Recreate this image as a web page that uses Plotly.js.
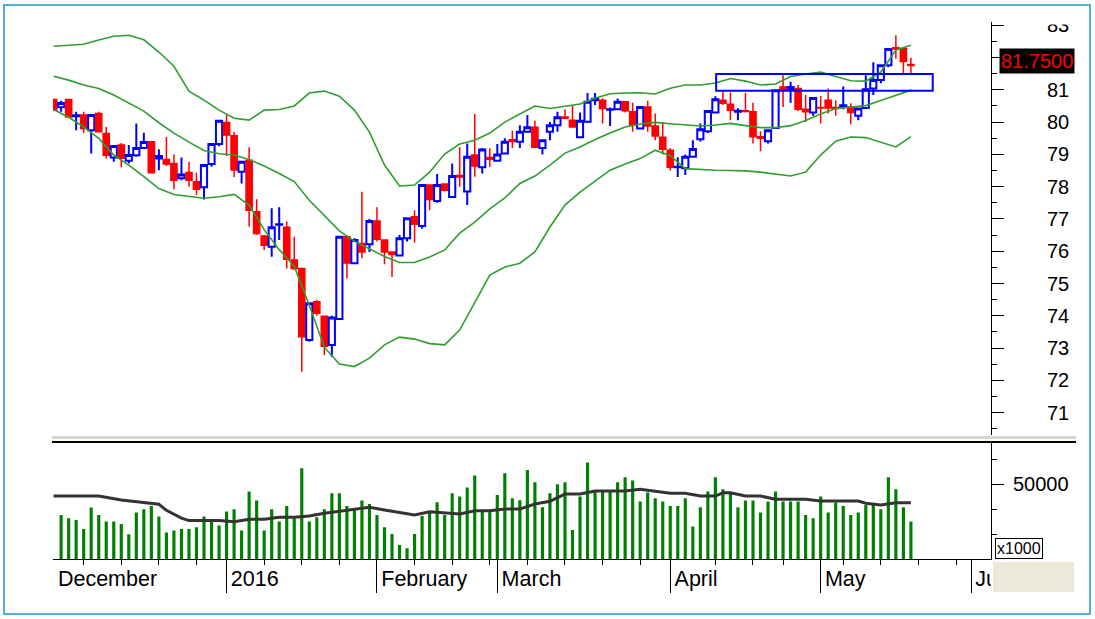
<!DOCTYPE html>
<html><head><meta charset="utf-8">
<script src="https://cdn.plot.ly/plotly-3.0.1.min.js"></script>
<style>html,body{margin:0;padding:0;background:#fff;}#chart{width:1095px;height:619px;}</style>
</head><body><div id="chart"></div>
<script>
// ---- trading calendar (days of each month present in the chart) ----
const tradingDays = {
  '2015-12': [1,2,3,4,7,8,9,10,11,14,15,16,17,18,21,22,23,24,25,28,29,30,31],
  '2016-01': [4,5,6,7,8,11,12,13,14,15,18,19,20,21,22,25,26,27,28,29],
  '2016-02': [1,2,3,4,5,15,16,17,18,19,22,23,24,25,26,29],
  '2016-03': [1,2,3,4,7,8,9,10,11,14,15,16,17,18,21,22,23,24,25,28,29,30,31],
  '2016-04': [1,4,5,6,7,8,11,12,13,14,15,19,20,21,22,25,26,27,28,29],
  '2016-05': [4,5,6,9,10,11,12,13,16,17,18,19,20]
};
const monthNames = ['January','February','March','April','May','June','July','August','September','October','November','December'];

// ---- prices ----
const open = [80.70,80.46,80.70,80.18,80.22,79.75,80.27,79.65,78.90,79.29, 78.80,78.97,79.20,79.39,78.87,78.84,78.72,78.26,78.44,78.15,
 77.98,78.70,79.32,79.99,79.58,78.46,78.82,77.22,76.47,76.14, 76.82,76.74,75.73,75.47,73.25,74.44,73.99,73.10,73.90,76.45,
 75.63,76.24,76.22,76.94,76.35,75.98,75.87,76.40,77.07,76.78, 78.05,77.56,78.08,77.68,78.35,77.85,78.98,78.60,78.90,78.80,
 79.03,79.45,79.39,79.70,79.84,79.20,79.70,79.90,80.16,80.06, 79.53,80.01,80.68,80.68,80.38,80.40,80.63,80.32,79.80,80.47,
 79.88,79.53,79.13,78.60,78.57,78.93,79.47,79.72,80.30,80.68, 80.55,80.32,80.35,80.32,79.55,79.41,79.82,81.09,81.00,81.04,
 80.40,80.30,80.45,80.68,80.45,80.47,80.47,80.20,80.44,81.04, 81.30,81.76,82.30,82.28,81.78];
const high = [80.72,80.66,80.72,80.32,80.32,80.22,80.32,79.85,79.26,79.35, 79.29,79.96,79.67,79.40,79.16,79.54,79.00,78.90,78.77,78.43,
 78.67,79.32,80.04,80.22,79.70,78.77,79.22,77.61,76.50,77.33, 77.36,76.92,76.45,75.50,74.42,74.50,74.00,74.00,76.45,76.50,
 76.40,77.84,77.00,77.36,76.35,76.00,76.50,77.02,77.27,78.05, 78.05,78.39,78.10,78.72,79.22,79.34,80.25,79.20,79.19,79.32,
 79.50,79.73,79.90,80.22,80.04,79.46,80.00,80.32,80.40,80.50, 80.30,80.90,80.90,80.74,80.45,80.73,80.63,80.60,80.47,80.66,
 80.27,79.98,79.20,78.91,79.00,79.44,79.96,80.34,80.80,80.94, 80.92,80.43,80.90,80.60,79.72,79.75,80.99,81.45,81.25,81.15,
 80.84,80.75,80.81,81.04,80.68,81.10,80.58,80.45,81.45,81.85, 81.76,82.26,82.69,82.28,81.99];
const low = [80.37,80.32,80.16,79.75,79.66,79.03,79.70,78.87,78.77,78.60, 78.72,78.93,79.20,78.43,78.51,78.64,77.92,78.20,78.00,77.74,
 77.60,78.62,79.25,78.95,78.30,78.10,76.76,76.50,76.04,75.83, 76.35,75.47,75.42,72.27,73.20,74.00,72.79,72.73,73.90,75.16,
 75.60,75.78,75.98,76.30,75.60,75.20,75.85,76.30,76.26,76.70, 77.27,77.50,77.85,77.68,78.00,77.43,78.31,78.41,78.62,78.80,
 79.00,79.20,79.20,79.70,79.20,79.00,79.44,79.70,80.10,79.85, 79.50,80.00,80.53,79.96,79.88,80.38,80.30,79.70,79.80,79.70,
 79.44,79.00,78.50,78.30,78.36,78.90,79.40,79.66,80.30,80.53, 80.06,80.06,80.30,79.34,79.10,79.34,79.80,80.47,80.60,80.34,
 80.00,80.20,79.96,80.27,80.20,80.40,79.93,80.06,80.44,80.84, 81.20,81.70,81.96,81.48,81.48];
const close = [80.37,80.59,80.16,80.21,79.80,80.22,79.70,78.97,79.26,78.88, 78.98,79.20,79.38,78.43,78.95,78.70,78.20,78.38,78.20,77.92,
 78.67,79.32,80.04,79.60,78.52,78.77,77.27,76.55,76.19,76.74, 76.84,75.75,75.47,73.35,74.39,74.08,73.06,73.95,76.45,75.64,
 76.35,75.98,76.94,76.37,75.98,75.90,76.40,77.02,76.84,78.05, 77.60,78.05,77.89,78.33,78.30,78.93,78.64,79.15,78.85,79.00,
 79.39,79.40,79.70,79.84,79.22,79.44,79.90,80.15,80.12,79.85, 80.04,80.63,80.72,80.42,80.40,80.63,80.35,79.90,80.47,79.88,
 79.57,79.16,78.60,78.62,78.93,79.17,79.78,80.34,80.71,80.58, 80.37,80.35,80.33,79.55,79.50,79.75,80.99,80.99,81.09,80.40,
 80.32,80.75,80.44,80.44,80.42,80.52,80.30,80.42,81.02,81.30, 81.76,82.26,82.26,81.88,81.75];

// ---- Bollinger bands, read at every second session ----
const bandIdx = [0,2,4,6,8,10,12,14,16,18,20,22,24,26,28,30,32,34,36,38,40,42,44,46,48,50,52,54,56,58,
 60,62,64,66,68,70,72,74,76,78,80,82,84,86,88,90,92,94,96,98,100,102,104,106,108,110,112,114];
const bandUpper = [82.35,82.38,82.41,82.54,82.66,82.69,82.55,82.17,81.73,80.96, 80.68,80.37,80.12,80.06,80.37,80.39,80.50,80.90,80.96,80.80,
 80.37,79.69,78.67,78.02,78.05,78.45,79.01,79.32,79.44,79.66, 80.00,80.25,80.50,80.42,80.50,80.56,80.74,80.88,80.90,80.91,
 80.87,81.05,81.15,81.15,81.21,81.35,81.27,81.15,81.18,81.41, 81.49,81.55,81.41,81.28,81.27,81.55,82.23,82.38];
const bandMiddle = [81.42,81.30,81.15,81.04,80.84,80.60,80.34,79.98,79.66,79.38, 79.12,79.02,78.98,78.84,78.64,78.41,78.16,77.58,77.09,76.63,
 76.31,76.08,75.84,75.65,75.65,75.82,76.04,76.56,76.90,77.31, 77.65,78.10,78.33,78.67,79.04,79.23,79.46,79.66,79.85,79.94,
 79.99,79.95,79.91,79.88,79.91,79.96,79.89,79.83,79.83,79.89, 80.05,80.25,80.42,80.46,80.51,80.67,80.84,80.99];
const bandLower = [80.39,80.15,79.85,79.50,78.98,78.67,78.31,77.94,77.76,77.69, 77.64,77.69,77.76,77.43,76.67,76.05,75.54,74.33,73.03,72.51,
 72.43,72.69,73.10,73.34,73.28,73.14,73.10,73.56,74.43,75.26, 75.51,75.63,75.98,76.75,77.43,77.83,78.17,78.51,78.70,78.87,
 79.13,78.96,78.56,78.53,78.51,78.50,78.49,78.45,78.39,78.33, 78.45,78.98,79.41,79.54,79.52,79.38,79.23,79.55];

// ---- volume (x1000) ----
const volume = [null,37700,36400,35700,32100,40700,37700,35100,35100,34100, 30000,38700,40000,41300,37100,30700,31500,32100,32100,32800,
 37100,35500,33500,39100,40000,31500,47100,43500,31500,40000, 35100,41300,36400,56400,35100,36800,40000,46400,46400,41300,
 40000,43500,42100,37700,32800,30100,25700,24400,30100,37300, 39100,42800,37700,46400,45100,48700,53500,39100,39100,45700,
 54400,44400,43600,55700,50800,40800,46400,50000,50800,31700, 45100,58700,47100,47100,47100,50800,52800,51500,43100,46700,
 44400,43100,41300,41300,44400,33100,40800,47100,52800,48000, 46400,40800,43500,43500,38700,43100,47100,43100,43100,43100,
 37700,36400,45100,38700,42700,41300,37700,38700,41700,41700, 40000,52800,48000,40800,35100];
const volMaIdx = [0,6,9,12,14,15,17,18,22,24,26,28,30,32,34,36,38,40,42,44,46,48,50,52,54,56,58,60,62,64,66,68,70,72,76,78,80,82,84,86,88,89,90,92,94,96,100,102,104,107,108,110,112,114];
const volMa = [45300,45300,43700,42600,42000,39600,36500,35500,35500,35000,36000,36000,36800,36800,37300,38400,39200,40100,40800,39700,
 38800,37700,39000,38600,38100,39400,39400,40100,40100,42100,43200,46100,46100,47300,47300,48000,47300,46400,46400,45300,
 45300,46600,46600,45300,45300,44000,44000,43300,43300,43300,42400,41700,42600,42600];

const priceTicks = [71,72,73,74,75,76,77,78,79,80,81,82,83];
const lastPriceText = '81.7500';
const volUnitText = 'x1000';

// ---- build session list and calendar ticks ----
const dates = [];
Object.keys(tradingDays).forEach(m => tradingDays[m].forEach(d => dates.push(m + '-' + String(d).padStart(2,'0'))));
const idx = dates.map((d,i) => i);
// continue the session calendar (weekdays) past the last bar for the axis
const allDays = dates.slice();
{ let d = new Date(dates[dates.length-1] + 'T00:00:00Z');
  while (allDays.length < 126) { d.setUTCDate(d.getUTCDate()+1); const w = d.getUTCDay(); if (w!==0 && w!==6) allDays.push(d.toISOString().slice(0,10)); } }
const monthIdx = [], monthText = [], weekIdx = [];
allDays.forEach((d,i) => {
  const dt = new Date(d+'T00:00:00Z');
  if (i===0 || d.slice(0,7) !== allDays[i-1].slice(0,7)) {
    monthIdx.push(i);
    const m = dt.getUTCMonth();
    monthText.push(m===0 ? String(dt.getUTCFullYear()) : monthNames[m]);
  } else {
    const prev = new Date(allDays[i-1]+'T00:00:00Z');
    const newWeek = (dt - prev) / 86400000 > 1 && dt.getUTCDay() < prev.getUTCDay() || (dt-prev)/86400000 > 3;
    if (newWeek && i - monthIdx[monthIdx.length-1] > 1) weekIdx.push(i);
  }
});
const majorTicks = monthIdx.filter(v => v > 0);

// the last-price box sits over the tick label nearest to it
const lastClose = close[close.length-1];
const priceTickText = priceTicks.map(v => Math.abs(v - (lastClose + 0.14)) < 0.5 ? '' : String(v));

// ---- geometry helpers (pixels -> paper) ----
const L = 53, R = 991, T = 22, B = 600;
const px = X => (X - L) / (R - L);
const py = Y => (B - Y) / (B - T);
const FONT = 'Liberation Sans, Arial, sans-serif';

const green = '#2E9E2E';
const traces = [
  {type:'candlestick', x: idx, open, high, low, close, xaxis:'x', yaxis:'y',
   increasing:{line:{color:'#0000FF', width:2}, fillcolor:'#FFFFFF'},
   decreasing:{line:{color:'#FF0000', width:1.5}, fillcolor:'#FF0000'},
   whiskerwidth:0, hoverinfo:'skip'},
  {type:'scatter', mode:'lines', x: bandIdx, y: bandUpper, line:{color:green, width:1.6}, xaxis:'x', yaxis:'y', hoverinfo:'skip'},
  {type:'scatter', mode:'lines', x: bandIdx, y: bandMiddle, line:{color:green, width:1.6}, xaxis:'x', yaxis:'y', hoverinfo:'skip'},
  {type:'scatter', mode:'lines', x: bandIdx, y: bandLower, line:{color:green, width:1.6}, xaxis:'x', yaxis:'y', hoverinfo:'skip'},
  {type:'bar', x: idx, y: volume, marker:{color:'#008000', line:{width:0}}, width:0.42, xaxis:'x', yaxis:'y2', hoverinfo:'skip'},
  {type:'scatter', mode:'lines', x: volMaIdx, y: volMa, line:{color:'#333333', width:3}, xaxis:'x', yaxis:'y2', hoverinfo:'skip'},
  {type:'scatter', mode:'text', x: monthIdx, y: monthIdx.map(()=>0.5), text: monthText.map(t => '\u2009' + t), textposition:'middle right',
   textfont:{family:FONT, size:21.5, color:'#000'}, cliponaxis:true, xaxis:'x', yaxis:'y3', hoverinfo:'skip'}
];

const halfTicks = priceTicks.map(v => v - 0.5);

const layout = {
  width:1095, height:619,
  margin:{l:L, r:1095-R, t:T, b:619-B, pad:0},
  paper_bgcolor:'#FFFFFF', plot_bgcolor:'#FFFFFF',
  showlegend:false, boxgap:0.18, boxgroupgap:0,
  font:{family:FONT, size:20, color:'#000'},
  xaxis:{range:[-0.08,124.65], anchor:'y2', showline:true, linecolor:'#000', linewidth:1,
    ticks:'outside', tickmode:'array', tickvals:majorTicks, ticklen:33, tickwidth:1, tickcolor:'#000',
    showticklabels:false, showgrid:false, zeroline:false, fixedrange:true,
    minor:{tickmode:'array', tickvals:weekIdx, ticks:'outside', ticklen:5, tickwidth:1, tickcolor:'#000', showgrid:false},
    rangeslider:{visible:false}},
  yaxis:{domain:[py(435),1], range:[70.31,83.1], side:'right', anchor:'x', showline:true, linecolor:'#000', linewidth:1,
    ticks:'outside', tickmode:'array', tickvals:priceTicks, ticktext:priceTickText, ticklen:12, tickwidth:1, tickcolor:'#000',
    minor:{tickmode:'array', tickvals:halfTicks, ticks:'outside', ticklen:5, tickwidth:1, tickcolor:'#000'},
    tickfont:{family:FONT, size:20, color:'#000'}, ticklabelstandoff:39,
    showgrid:false, zeroline:false, fixedrange:true},
  yaxis2:{domain:[py(559.3),py(443)], range:[20000,66520], side:'right', anchor:'x', showline:true, linecolor:'#000', linewidth:1,
    ticks:'outside', tickmode:'array', tickvals:[50000], ticktext:['50000'], ticklen:12, tickwidth:1, tickcolor:'#000',
    minor:{tickmode:'array', tickvals:[30000,40000,60000], ticks:'outside', ticklen:5, tickwidth:1, tickcolor:'#000'},
    tickfont:{family:FONT, size:20, color:'#000'}, ticklabelstandoff:5,
    showgrid:false, zeroline:false, fixedrange:true},
  yaxis3:{domain:[0,py(561)], range:[0,1], visible:false, fixedrange:true},
  shapes:[
    {type:'line', xref:'paper', yref:'paper', x0:px(52), x1:px(1076), y0:py(437.5), y1:py(437.5), line:{color:'#D8D4C8', width:3}},
    {type:'line', xref:'paper', yref:'paper', x0:px(52), x1:px(1076), y0:py(442), y1:py(442), line:{color:'#000', width:2}},
    {type:'rect', xref:'x', yref:'y', x0:88.1, x1:116.9, y0:80.97, y1:81.49, line:{color:'#0000FF', width:2}, fillcolor:'rgba(0,0,0,0)', layer:'above'},
    {type:'rect', xref:'paper', yref:'paper', x0:px(993), x1:px(1074), y0:py(592), y1:py(562), line:{width:0}, fillcolor:'#ECE9D8', layer:'above'},
    {type:'rect', xref:'paper', yref:'paper', x0:px(1008), x1:px(1085), y0:py(24.5), y1:py(8), line:{width:0}, fillcolor:'#FFFFFF', layer:'above'},
    {type:'rect', xref:'paper', yref:'paper', x0:px(4), x1:px(1090), y0:py(614), y1:py(5), line:{color:'#4FB0D6', width:2}, fillcolor:'rgba(0,0,0,0)', layer:'above'}
  ],
  annotations:[
    {xref:'paper', yref:'y', x:px(999), y:lastClose, yshift:4.5, xanchor:'left', yanchor:'middle', text:lastPriceText,
     showarrow:false, bgcolor:'#000', font:{family:FONT, size:20, color:'#FF0000'}, borderpad:1},
    {xref:'paper', yref:'paper', x:px(995), y:py(559), xanchor:'left', yanchor:'bottom', text:volUnitText,
     showarrow:false, bgcolor:'#FFF', bordercolor:'#000', borderwidth:1, borderpad:1, font:{family:FONT, size:16, color:'#000'}}
  ]
};

Plotly.newPlot('chart', traces, layout, {staticPlot:true, displayModeBar:false});
</script></body></html>
